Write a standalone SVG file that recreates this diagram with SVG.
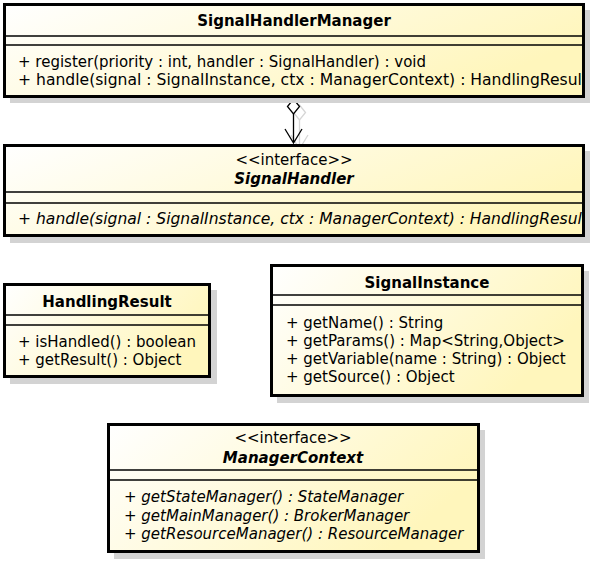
<svg xmlns="http://www.w3.org/2000/svg" width="594" height="565" viewBox="0 0 594 565">
<defs>
<linearGradient id="fill" x1="0" y1="0" x2="1" y2="0.4">
<stop offset="0" stop-color="#ffffff"/>
<stop offset="1" stop-color="#fff6bc"/>
</linearGradient>
<clipPath id="clip1"><rect x="4" y="4" width="580" height="93"/></clipPath>
<clipPath id="clip2"><rect x="4" y="145" width="580" height="91"/></clipPath>
</defs>
<style>
.shadow{fill:#d3d3d3}
.box{fill:url(#fill);stroke:#000;stroke-width:3}
.div{stroke:#000;stroke-width:1.3}
text{font-family:"DejaVu Sans","Liberation Sans",sans-serif;font-size:15px;fill:#000}
.title{font-weight:bold;text-anchor:middle}
.stereo{text-anchor:middle}
.abs{font-style:italic}
.conn{fill:none;stroke:#000;stroke-width:1.3}
.ghost{fill:none;stroke:#d6d6d6;stroke-width:1.3}
</style>
<rect width="594" height="565" fill="#fff"/>

<g id="connectors">
<g class="ghost" transform="translate(6,6)">
<path d="M293.5,99 L299.5,106.5 L293.5,114 L287.5,106.5 Z"/>
<path d="M293.5,114 V143 M285,129 L293.5,143 L302,129"/>
</g>
<g class="conn">
<path d="M293.5,99 L299.5,106.5 L293.5,114 L287.5,106.5 Z" fill="#fff"/>
<path d="M293.5,114 V143 M285,129 L293.5,143 L302,129"/>
</g>
</g>

<g id="SignalHandlerManager">
<rect class="shadow" x="10" y="10" width="580" height="93"/>
<rect class="box" x="4.5" y="4.5" width="579" height="92"/>
<line class="div" x1="4.5" y1="36" x2="583.5" y2="36"/>
<line class="div" x1="4.5" y1="45" x2="583.5" y2="45"/>
<text class="title" x="294" y="26">SignalHandlerManager</text>
<g clip-path="url(#clip1)">
<text x="18" y="67">+ register(priority : int, handler : SignalHandler) : void</text>
<text x="18" y="85" textLength="570" lengthAdjust="spacingAndGlyphs">+ handle(signal : SignalInstance, ctx : ManagerContext) : HandlingResult</text>
</g>
</g>

<g id="SignalHandler">
<rect class="shadow" x="10" y="151" width="580" height="92"/>
<rect class="box" x="4.5" y="145.5" width="579" height="90"/>
<line class="div" x1="4.5" y1="192" x2="583.5" y2="192"/>
<line class="div" x1="4.5" y1="203" x2="583.5" y2="203"/>
<text class="stereo" x="294" y="165">&lt;&lt;interface&gt;&gt;</text>
<text class="title abs" x="294" y="184">SignalHandler</text>
<g clip-path="url(#clip2)">
<text class="abs" x="18" y="224" textLength="570" lengthAdjust="spacingAndGlyphs">+ handle(signal : SignalInstance, ctx : ManagerContext) : HandlingResult</text>
</g>
</g>

<g id="HandlingResult">
<rect class="shadow" x="10" y="290" width="207" height="94"/>
<rect class="box" x="4.5" y="284.5" width="205" height="92"/>
<line class="div" x1="4.5" y1="315" x2="209.5" y2="315"/>
<line class="div" x1="4.5" y1="325" x2="209.5" y2="325"/>
<text class="title" x="107" y="307">HandlingResult</text>
<text x="18" y="347">+ isHandled() : boolean</text>
<text x="18" y="365">+ getResult() : Object</text>
</g>

<g id="SignalInstance">
<rect class="shadow" x="277" y="271" width="312" height="132"/>
<rect class="box" x="271.5" y="265.5" width="311" height="130"/>
<line class="div" x1="271.5" y1="295" x2="582.5" y2="295"/>
<line class="div" x1="271.5" y1="305" x2="582.5" y2="305"/>
<text class="title" x="427" y="288">SignalInstance</text>
<text x="286" y="328">+ getName() : String</text>
<text x="286" y="346">+ getParams() : Map&lt;String,Object&gt;</text>
<text x="286" y="364">+ getVariable(name : String) : Object</text>
<text x="286" y="382">+ getSource() : Object</text>
</g>

<g id="ManagerContext">
<rect class="shadow" x="114" y="430" width="371" height="129"/>
<rect class="box" x="108.5" y="424.5" width="370" height="127"/>
<line class="div" x1="108.5" y1="470" x2="478.5" y2="470"/>
<line class="div" x1="108.5" y1="480" x2="478.5" y2="480"/>
<text class="stereo" x="293" y="443">&lt;&lt;interface&gt;&gt;</text>
<text class="title abs" x="293" y="463">ManagerContext</text>
<text class="abs" x="124" y="502">+ getStateManager() : StateManager</text>
<text class="abs" x="124" y="521">+ getMainManager() : BrokerManager</text>
<text class="abs" x="124" y="539">+ getResourceManager() : ResourceManager</text>
</g>
</svg>
